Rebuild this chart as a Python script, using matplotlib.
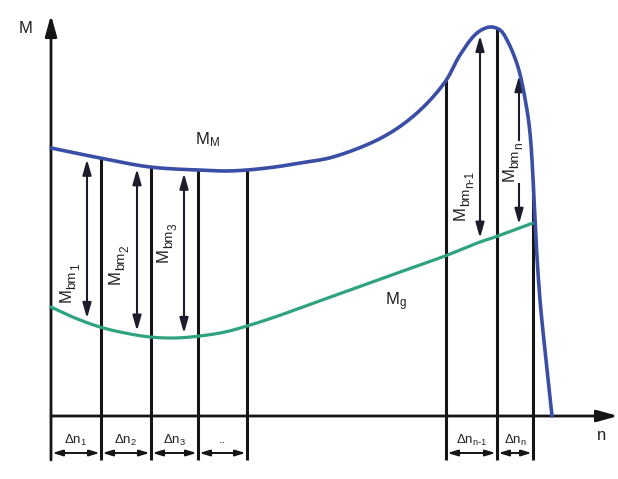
import numpy as np
import matplotlib
matplotlib.use("Agg")
import matplotlib.pyplot as plt
import matplotlib.transforms as mtransforms

plt.rcParams['font.family'] = ['Liberation Sans', 'DejaVu Sans']
plt.rcParams['mathtext.default'] = 'regular'

# Maximum (full-load) torque curve M_M over speed n
n_MM = [0, 24, 49, 74, 99, 124, 148, 174, 196, 224, 249, 282, 332, 366, 394,
        409, 426, 439, 449, 456, 467, 476, 479, 481, 483, 485, 489, 495, 501]
M_MM = [268, 263, 258, 253, 249, 247, 246, 245, 246, 249, 253, 259, 279, 303, 334,
        361, 383, 389, 386, 376, 349, 306, 283, 256, 216, 176, 116, 56, 0]

# Load torque curve M_g
n_g = [0, 24, 49, 74, 99, 124, 149, 174, 196, 224, 249, 299, 349, 394, 429, 444, 482]
M_g = [109, 98, 89, 83, 79, 78, 80, 84, 90, 99, 108, 126, 144, 160, 174, 179, 193]

# Speed interval boundaries (two groups of Δn steps)
bounds_left = [0, 50, 100, 147, 196]
bounds_right = [395, 446, 482]
interval_labels_left = [r'$\Delta n_1$', r'$\Delta n_2$', r'$\Delta n_3$', '..']
interval_labels_right = [r'$\Delta n_{n\text{-}1}$', r'$\Delta n_n$']

# Accelerating-torque arrows M_bm
arrow_n = [36, 86, 133, 429, 468]
arrow_subs = ['1', '2', '3', 'n-1', 'n']
arrow_label_pos = [(18, 133), (67, 151), (115, 173), (412, 221), (461, 254)]

BLUE = '#3b4ea6'
GREEN = '#2fa27f'
BLACK = '#151515'
TEXT = '#222222'


def smooth(xs, ys, per_seg=24):
    """Centripetal Catmull-Rom curve through the given points."""
    P = np.column_stack([xs, ys]).astype(float)
    P = np.vstack([2 * P[0] - P[1], P, 2 * P[-1] - P[-2]])
    out = []
    for i in range(1, len(P) - 2):
        p0, p1, p2, p3 = P[i - 1], P[i], P[i + 1], P[i + 2]
        t0 = 0.0
        t1 = t0 + np.linalg.norm(p1 - p0) ** 0.5
        t2 = t1 + np.linalg.norm(p2 - p1) ** 0.5
        t3 = t2 + np.linalg.norm(p3 - p2) ** 0.5
        t = np.linspace(t1, t2, per_seg, endpoint=False)[:, None]
        a1 = (t1 - t) / (t1 - t0) * p0 + (t - t0) / (t1 - t0) * p1
        a2 = (t2 - t) / (t2 - t1) * p1 + (t - t1) / (t2 - t1) * p2
        a3 = (t3 - t) / (t3 - t2) * p2 + (t - t2) / (t3 - t2) * p3
        b1 = (t2 - t) / (t2 - t0) * a1 + (t - t0) / (t2 - t0) * a2
        b2 = (t3 - t) / (t3 - t1) * a2 + (t - t1) / (t3 - t1) * a3
        c = (t2 - t) / (t2 - t1) * b1 + (t - t1) / (t2 - t1) * b2
        out.append(c)
    out.append(P[-2][None, :])
    c = np.vstack(out)
    return c[:, 0], c[:, 1]


fig = plt.figure(figsize=(6.18, 4.79), dpi=100)
ax = fig.add_axes([0, 0, 1, 1])
ax.set_xlim(-51, 567)
ax.set_ylim(-63, 416)
ax.axis('off')
renderer = fig.canvas.get_renderer()

BOTTOM = -44   # lower end of the vertical division lines
DIM_Y = -37    # level of the Δn dimension arrows

# Axes with arrow heads
head = dict(arrowstyle='-|>,head_length=0.9,head_width=0.25', lw=2.0, color=BLACK,
            shrinkA=0, shrinkB=0, mutation_scale=14)
ax.annotate('', xy=(0, 401), xytext=(0, BOTTOM), arrowprops=head)
ax.annotate('', xy=(567, 0), xytext=(0, 0), arrowprops=head)

# Vertical division lines from the M_M curve down to below the axis
for b in bounds_left[1:] + bounds_right:
    top = np.interp(b, n_MM, M_MM)
    ax.plot([b, b], [BOTTOM, top], color=BLACK, lw=2.2, solid_capstyle='butt', zorder=2)

# Δn dimension arrows
for group in (bounds_left, bounds_right):
    for a, b in zip(group[:-1], group[1:]):
        ax.annotate('', xy=(b, DIM_Y), xytext=(a, DIM_Y),
                    arrowprops=dict(arrowstyle='<|-|>,head_length=0.5,head_width=0.15',
                                    lw=1.4, color=BLACK, shrinkA=1, shrinkB=1,
                                    mutation_scale=12))

for group, labels in ((bounds_left, interval_labels_left),
                      (bounds_right, interval_labels_right)):
    for a, b, lab in zip(group[:-1], group[1:], labels):
        ax.text((a + b) / 2, -24, lab, ha='center', va='center', fontsize=9.5,
                color=TEXT)

# Curves
gx, gy = smooth(n_g, M_g)
ax.plot(gx, gy, color=GREEN, lw=2.3, zorder=3, solid_capstyle='round')
mx, my = smooth(n_MM, M_MM)
ax.plot(mx, my, color=BLUE, lw=2.6, zorder=4, solid_capstyle='round')

# M_bm arrows between the two curves
gap = 4
for x in arrow_n:
    top = np.interp(x, n_MM, M_MM) - gap
    bot = np.interp(x, n_g, M_g) + gap
    ax.annotate('', xy=(x, top), xytext=(x, bot),
                arrowprops=dict(arrowstyle='<|-|>,head_length=0.7,head_width=0.2',
                                lw=1.5, color='#1c1c2c', shrinkA=0, shrinkB=0,
                                mutation_scale=13), zorder=3)


def vertical_label(x, y, sub, boxed=False):
    """Write M_bm_sub reading bottom-to-top, centred on (x, y)."""
    pieces = [('M', 12, 0.0), ('bm', 9.5, -3.0), (sub, 8.5, -6.0)]
    lengths = []
    for s, fs, _ in pieces:
        t = ax.text(0, 0, s, fontsize=fs, rotation=90)
        lengths.append(t.get_window_extent(renderer).height * 72 / fig.dpi)
        t.remove()
    total = sum(lengths)
    along = -total / 2
    texts = []
    for (s, fs, drop), L in zip(pieces, lengths):
        tr = mtransforms.offset_copy(ax.transData, fig=fig, x=-drop + 1.5, y=along,
                                     units='points')
        t = ax.text(x, y, s, fontsize=fs, rotation=90, rotation_mode='anchor',
                    ha='left', va='baseline', color=TEXT, transform=tr, zorder=6)
        texts.append(t)
        along += L
    if boxed:
        bb = mtransforms.Bbox.union([t.get_window_extent(renderer) for t in texts])
        inv = ax.transData.inverted()
        (x0, y0), (x1, y1) = inv.transform([[bb.x0 - 2, bb.y0 - 2], [bb.x1 + 2, bb.y1 + 2]])
        ax.add_patch(plt.Rectangle((x0, y0), x1 - x0, y1 - y0, facecolor='white',
                                   edgecolor='none', zorder=3.5))


for (x, y), sub in zip(arrow_label_pos, arrow_subs):
    vertical_label(x, y, sub, boxed=(sub == 'n'))

# Curve and axis names
ax.text(156, 276, r'$M_M$', ha='center', va='center', fontsize=12, color=TEXT)
ax.text(345, 114, r'$M_g$', ha='center', va='center', fontsize=12, color=TEXT)
ax.text(-25, 388, 'M', ha='center', va='center', fontsize=12, color=TEXT)
ax.text(551, -19, 'n', ha='center', va='center', fontsize=12, color=TEXT)

fig.savefig('out.png', dpi=100, facecolor='white')
